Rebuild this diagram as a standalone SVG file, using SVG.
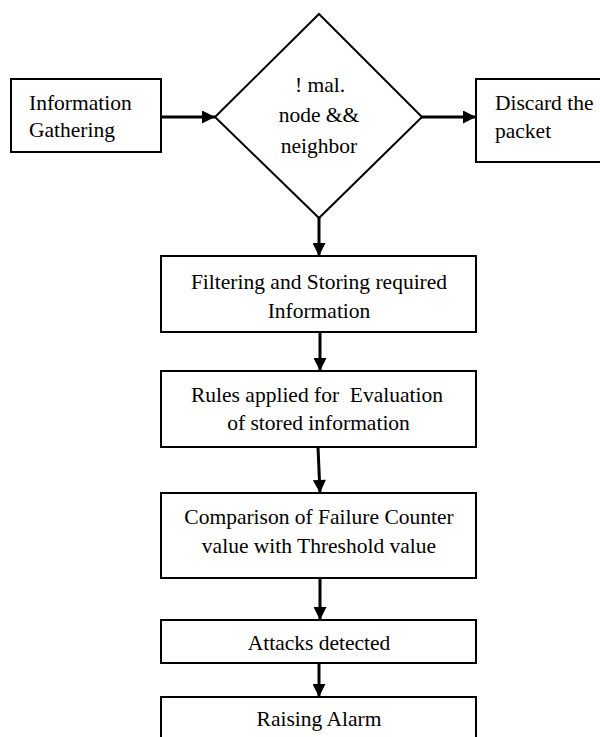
<svg xmlns="http://www.w3.org/2000/svg" width="600" height="737" viewBox="0 0 600 737" font-family="'Liberation Serif', 'Times New Roman', 'DejaVu Serif', serif">
  <style>
    .box { fill: #ffffff; stroke: #000000; stroke-width: 2; }
    text { font-family: 'Liberation Serif', 'Times New Roman', 'DejaVu Serif', serif; font-size: 21.5px; fill: #000000; }
    .c { text-anchor: middle; }
    .edge { stroke: #000000; stroke-width: 3; fill: none; }
  </style>
  <defs>
    <marker id="ah" viewBox="0 0 10 10" refX="10" refY="5" markerWidth="14" markerHeight="13" markerUnits="userSpaceOnUse" orient="auto">
      <path d="M0,0 L10,5 L0,10 Z" fill="#000000"/>
    </marker>
  </defs>
  <rect width="600" height="737" fill="#ffffff"/>

  <g id="connectors">
    <line class="edge" x1="161" y1="117" x2="215" y2="117" marker-end="url(#ah)"/>
    <line class="edge" x1="422" y1="117" x2="476" y2="117" marker-end="url(#ah)"/>
    <line class="edge" x1="319" y1="218" x2="319" y2="256" marker-end="url(#ah)"/>
    <line class="edge" x1="320" y1="332" x2="320" y2="371" marker-end="url(#ah)"/>
    <line class="edge" x1="318" y1="447" x2="320" y2="493" marker-end="url(#ah)"/>
    <line class="edge" x1="320" y1="578" x2="320" y2="620" marker-end="url(#ah)"/>
    <line class="edge" x1="319" y1="663" x2="319" y2="697" marker-end="url(#ah)"/>
  </g>

  <g id="info-gathering">
    <rect class="box" x="11" y="79" width="150" height="73"/>
    <text x="29" y="110">Information</text>
    <text x="29" y="137">Gathering</text>
  </g>

  <g id="decision">
    <polygon class="box" points="319,14 422,117 319,218 215,117"/>
    <text class="c" x="320" y="92">! mal.</text>
    <text class="c" x="319" y="122">node &amp;&amp;</text>
    <text class="c" x="319" y="153">neighbor</text>
  </g>

  <g id="discard">
    <rect class="box" x="476" y="79" width="130" height="83"/>
    <text x="495" y="110">Discard the</text>
    <text x="495" y="138">packet</text>
  </g>

  <g id="filtering">
    <rect class="box" x="161" y="256" width="315" height="76"/>
    <text class="c" x="319" y="289">Filtering and Storing required</text>
    <text class="c" x="319" y="318">Information</text>
  </g>

  <g id="rules">
    <rect class="box" x="161" y="371" width="315" height="76"/>
    <text class="c" x="317" y="402" xml:space="preserve">Rules applied for  Evaluation</text>
    <text class="c" x="318.5" y="430">of stored information</text>
  </g>

  <g id="comparison">
    <rect class="box" x="161" y="493" width="315" height="85"/>
    <text class="c" x="319" y="524">Comparison of Failure Counter</text>
    <text class="c" x="319" y="553">value with Threshold value</text>
  </g>

  <g id="attacks">
    <rect class="box" x="161" y="620" width="315" height="43"/>
    <text class="c" x="319" y="650">Attacks detected</text>
  </g>

  <g id="alarm">
    <rect class="box" x="161" y="697" width="315" height="50"/>
    <text class="c" x="319" y="726">Raising Alarm</text>
  </g>
</svg>
